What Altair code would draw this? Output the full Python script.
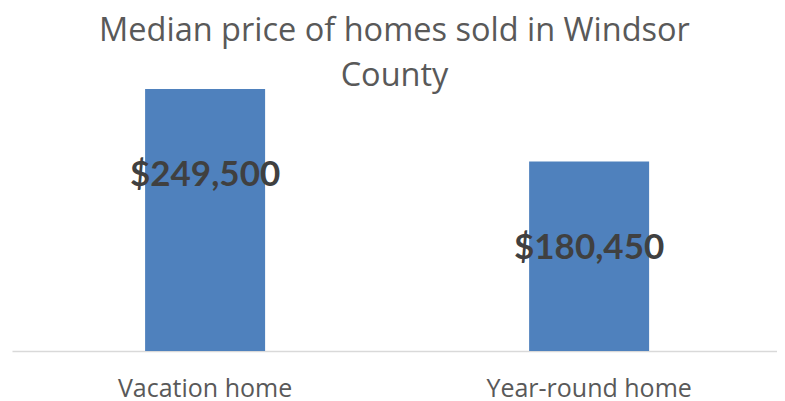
import altair as alt
import pandas as pd

categories = ["Vacation home", "Year-round home"]
prices = [249500, 180450]
price_labels = ["$249,500", "$180,450"]

df = pd.DataFrame({"category": categories, "price": prices, "label": price_labels})

x = alt.X("category:N", sort=categories, title=None,
          scale=alt.Scale(paddingInner=0.6875, paddingOuter=0.3398, align=0.51),
          axis=alt.Axis(labelAngle=0, labelFont="Open Sans", labelFontSize=25,
                        labelColor="#595959", labelPadding=25, ticks=False,
                        labelLimit=0, labelOverlap=False,
                        domainColor="#d9d9d9", domainWidth=1.5))
y = alt.Y("price:Q", title=None,
          scale=alt.Scale(domain=[0, 249500], nice=False, zero=True),
          axis=None)

bars = alt.Chart(df).mark_bar(color="#4F81BD").encode(x=x, y=y)
labels = alt.Chart(df).mark_text(
    font="Lato", fontSize=35, fontWeight="bold", color="#404040",
    baseline="middle", dy=86
).encode(x=x, y=y, text="label:N")

chart = (bars + labels).properties(
    width=765, height=262,
    title=alt.TitleParams(
        ["Median price of homes sold in Windsor", "County"],
        font="Open Sans", fontSize=32.5, fontWeight="normal", color="#595959",
        anchor="middle", frame="group", offset=-3, lineHeight=45,
    ),
    padding={"left": 4, "right": 0, "top": 81, "bottom": 50},
    autosize=alt.AutoSizeParams(type="none"),
).configure_view(stroke=None)

chart.save("out.html", embed_options={"renderer": "svg", "actions": False})
